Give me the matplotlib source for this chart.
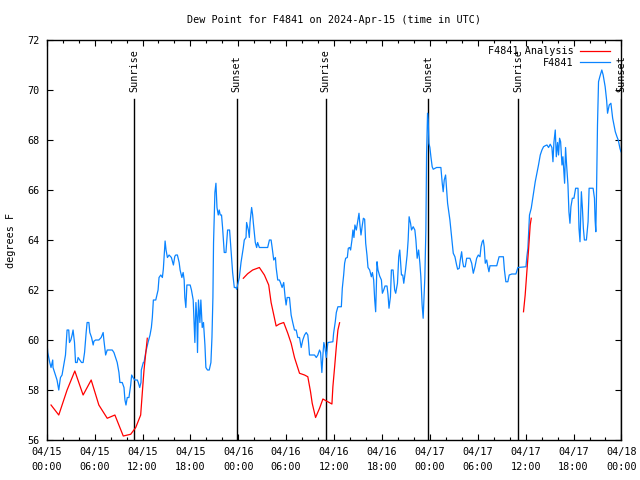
import numpy as np
import matplotlib
matplotlib.use("Agg")
import matplotlib.pyplot as plt

# ── Data (hours since 2024-04-15 00:00 UTC, dew point in °F) ─────────────────
obs_hours = [
    0.04, 0.13, 0.38, 0.54, 0.75, 0.79, 1.09, 1.29, 1.51, 1.72, 1.92, 2.14, 2.35, 2.55, 2.76,
    2.85, 3.02, 3.18, 3.30, 3.48, 3.61, 3.81, 3.93, 4.15, 4.36, 4.56, 4.74, 4.94, 5.06, 5.28,
    5.40, 5.62, 5.82, 5.91, 6.12, 6.53, 6.82, 7.07, 7.16, 7.38, 7.58, 7.79, 8.21, 8.42, 8.63,
    8.83, 9.05, 9.17, 9.46, 9.68, 9.80, 9.93, 10.09, 10.30, 10.52, 10.64, 10.81, 11.02, 11.35,
    11.47, 11.65, 11.81, 11.85, 12.10, 12.19, 12.40, 12.69, 12.94, 13.11, 13.23, 13.36, 13.66,
    13.78, 13.95, 14.07, 14.29, 14.49, 14.61, 14.83, 14.95, 15.12, 15.33, 15.62, 15.87, 16.05,
    16.17, 16.37, 16.59, 16.71, 16.93, 17.09, 17.22, 17.30, 17.43, 17.56, 17.97, 18.13, 18.35,
    18.56, 18.69, 18.81, 18.89, 19.01, 19.19, 19.31, 19.48, 19.64, 19.82, 19.94, 20.14, 20.36,
    20.57, 20.70, 20.82, 20.90, 21.07, 21.20, 21.33, 21.49, 21.61, 21.74, 21.90, 22.03, 22.24,
    22.45, 22.66, 22.91, 23.00, 23.16, 23.29, 23.50, 23.71, 23.79, 23.91, 24.13, 24.34, 24.63,
    24.75, 24.97, 25.04, 25.26, 25.38, 25.47, 25.67, 25.80, 25.88, 26.13, 26.30, 26.42, 26.64,
    27.68, 27.90, 28.11, 28.24, 28.44, 28.65, 28.74, 28.94, 29.15, 29.28, 29.49, 29.69, 29.87,
    29.99, 30.12, 30.41, 30.62, 30.82, 31.04, 31.25, 31.45, 31.67, 31.88, 32.08, 32.30, 32.51,
    32.71, 32.80, 32.92, 33.55, 33.77, 33.97, 34.18, 34.31, 34.47, 34.60, 34.72, 34.85, 35.02,
    35.15, 35.22, 35.85, 35.94, 36.15, 36.28, 36.48, 36.91, 37.03, 37.20, 37.32, 37.45, 37.66,
    37.78, 37.95, 38.07, 38.24, 38.36, 38.49, 38.61, 38.79, 38.95, 39.12, 39.24, 39.37, 39.54,
    39.67, 39.83, 39.96, 40.12, 40.25, 40.46, 40.67, 40.80, 40.96, 41.09, 41.21, 41.38, 41.50,
    41.71, 41.93, 42.05, 42.22, 42.38, 42.63, 42.76, 42.88, 43.06, 43.18, 43.39, 43.59, 43.72,
    43.94, 44.10, 44.23, 44.35, 44.44, 44.60, 44.73, 44.95, 45.15, 45.28, 45.40, 45.58, 45.70,
    45.91, 46.12, 46.25, 46.41, 46.59, 46.75, 46.87, 47.03, 47.16, 47.37, 47.50, 47.59, 47.71,
    47.79, 47.88, 48.00, 48.13, 48.29, 48.42, 48.84, 49.38, 49.55, 49.67, 49.80, 49.97, 50.10,
    50.22, 50.39, 50.51, 50.64, 50.80, 50.93, 51.14, 51.35, 51.48, 51.68, 51.81, 51.98, 52.11,
    52.23, 52.43, 52.61, 53.02, 53.24, 53.44, 53.65, 53.86, 54.07, 54.28, 54.41, 54.56, 54.69,
    54.81, 54.94, 55.12, 55.24, 55.40, 55.53, 55.76, 56.38, 56.67, 57.21, 57.34, 57.52, 57.77,
    57.94, 58.27, 58.78, 59.03, 60.04, 60.15, 60.28, 60.36, 60.48, 60.70, 60.86, 61.03, 61.20,
    61.41, 61.61, 61.83, 62.04, 62.24, 62.45, 62.67, 62.87, 63.08, 63.29, 63.42, 63.54, 63.71,
    63.84, 64.00, 64.12, 64.25, 64.38, 64.55, 64.67, 64.88, 65.00, 65.13, 65.30, 65.42, 65.55,
    65.67, 65.85, 66.05, 66.26, 66.56, 66.68, 66.81, 66.98, 67.11, 67.23, 67.36, 67.61, 67.82,
    67.95, 68.45, 68.62, 68.70, 68.79, 68.87, 69.00, 69.13, 69.29, 69.54, 69.71, 69.96, 70.14,
    70.26, 70.47, 70.68, 70.90, 71.06, 71.23, 71.44, 71.60, 71.81, 71.94,
]
obs_dewpt = [
    59.87, 59.5, 59.1, 58.9, 59.2, 58.9, 58.6, 58.4, 58.0, 58.5, 58.6, 59.0, 59.4, 60.4, 60.4,
    59.9, 60.0, 60.2, 60.4, 59.9, 59.1, 59.1, 59.3, 59.2, 59.1, 59.1, 59.5, 60.3, 60.7, 60.7,
    60.3, 60.1, 59.8, 59.95, 60.0, 60.0, 60.1, 60.3, 60.0, 59.4, 59.6, 59.6, 59.6, 59.5, 59.3,
    59.1, 58.7, 58.3, 58.3, 58.1, 57.6, 57.4, 57.7, 57.7, 58.2, 58.6, 58.5, 58.4, 58.4,
    58.3, 58.1, 58.3, 58.8, 59.1, 59.1, 59.5, 59.9, 60.2, 60.5, 60.9, 61.6, 61.6,
    61.76, 62.0, 62.5, 62.6, 62.5, 62.84, 63.96, 63.6, 63.3, 63.4, 63.3, 63.0, 63.35,
    63.4, 63.4, 63.1, 62.8, 62.5, 62.7, 62.4, 61.7, 61.3, 62.2, 62.2, 62.0, 61.6,
    59.9, 61.5, 60.9, 59.5, 61.6, 60.7, 61.6, 60.5, 60.7, 59.8, 58.9, 58.8, 58.8,
    59.1, 60.1, 61.7, 63.9, 65.9, 66.27, 65.3, 65.0, 65.2, 65.0, 65.0, 64.5, 63.5,
    63.5, 64.4, 64.4, 64.0, 63.3, 62.7, 62.1, 62.1, 62.03, 62.2, 62.5, 63.1, 63.7,
    64.0, 64.1, 64.7, 64.4, 64.1, 64.7, 65.3, 65.0, 64.7, 63.9, 63.7, 63.9, 63.7,
    63.7, 64.0, 64.0, 63.7, 63.2, 63.3, 62.9, 62.4, 62.4, 62.3, 62.1, 62.3, 61.7,
    61.4, 61.7, 61.7, 61.0, 60.7, 60.4, 60.4, 60.1, 60.1, 59.7, 60.0, 60.2, 60.3,
    60.2, 59.9, 59.4, 59.4, 59.3, 59.4, 59.6, 59.5, 58.7, 59.4, 59.9, 59.7, 59.3,
    59.7, 59.9, 59.93, 60.27, 60.73, 61.1, 61.33, 61.33, 62.07, 62.6, 63.07, 63.27, 63.3,
    63.67, 63.7, 63.6, 64.0, 64.4, 64.1, 64.6, 64.4, 64.73, 65.07, 64.6, 64.2, 64.6,
    64.87, 64.83, 63.87, 63.4, 62.9, 62.8, 62.53, 62.7, 62.4, 61.6, 61.13, 63.13, 62.8,
    62.56, 62.4, 61.87, 62.0, 62.16, 62.16, 61.8, 61.27, 61.73, 62.8, 62.8, 62.0, 61.87,
    62.27, 63.33, 63.6, 63.0, 62.6, 62.6, 62.27, 62.8, 63.4, 64.0, 64.93, 64.67, 64.4,
    64.53, 64.4, 64.0, 63.27, 63.6, 63.07, 62.53, 61.4, 60.87, 62.5, 64.4, 67.47, 69.07,
    68.8, 67.87, 67.7, 67.33, 66.93, 66.83, 66.9, 66.9, 66.27, 65.93, 66.4, 66.6, 66.0,
    65.47, 65.07, 64.8, 64.4, 63.87, 63.47, 63.33, 63.0, 62.83, 62.87, 63.2, 63.53, 63.13,
    62.93, 62.93, 63.27, 63.27, 63.07, 62.67, 62.93, 63.27, 63.4, 63.33, 63.73, 63.93, 64.0,
    63.73, 63.07, 63.2, 62.97, 62.73, 62.97, 62.97, 62.97, 63.33, 63.33, 62.8, 62.33, 62.33,
    62.6, 62.64, 62.64, 62.9, 62.93, 63.33, 63.67, 64.2, 65.0, 65.27, 65.6, 65.93, 66.33,
    66.67, 67.0, 67.4, 67.6, 67.73, 67.77, 67.8, 67.7, 67.83, 67.7, 67.13, 67.9, 68.4,
    67.33, 67.9, 67.4, 68.07, 67.93, 67.0, 67.33, 66.27, 67.7, 67.0, 66.2, 65.13, 64.67,
    65.33, 65.67, 65.67, 66.07, 66.07, 64.47, 63.93, 65.93, 65.27, 64.47, 64.0, 64.0, 64.73,
    66.07, 66.07, 65.67, 64.8, 64.33, 65.73, 68.6, 70.33, 70.53, 70.8, 70.6, 70.13, 69.6,
    69.07, 69.4, 69.47, 68.87, 68.6, 68.33, 68.13, 68.0, 67.67, 67.53,
]

# analysis series has gaps -> three separate runs
ana_hours_1 = [0.54, 1.51, 2.55, 3.52, 4.56, 5.57, 6.53, 7.58, 8.54, 9.59, 10.52, 11.15,
               11.77, 12.00, 12.19, 12.60]
ana_dewpt_1 = [57.4, 57.0, 58.0, 58.76, 57.8, 58.4, 57.4, 56.87, 57.0, 56.16, 56.23, 56.5,
               57.0, 58.0, 58.8, 60.07]
ana_hours_2 = [24.63, 25.17, 25.80, 26.64, 27.27, 27.81, 28.11, 28.40, 28.74, 29.15, 29.69,
               30.20, 30.62, 31.04, 31.67, 32.30, 32.71, 33.05, 33.26, 33.68, 34.18, 34.60,
               35.22, 35.73, 35.85, 36.07, 36.28, 36.48, 36.69]
ana_dewpt_2 = [62.47, 62.65, 62.8, 62.9, 62.6, 62.2, 61.5, 61.07, 60.56, 60.64, 60.7,
               60.27, 59.87, 59.3, 58.67, 58.6, 58.53, 57.93, 57.47, 56.9, 57.27, 57.64,
               57.53, 57.44, 58.13, 58.93, 59.73, 60.4, 60.69]
ana_hours_3 = [59.73, 59.94, 60.15, 60.36, 60.57, 60.70]
ana_dewpt_3 = [61.13, 61.8, 62.73, 63.6, 64.6, 64.87]

sun_hours  = [10.93, 23.81, 34.93, 47.78, 59.06, 71.95]
sun_labels = ["Sunrise", "Sunset", "Sunrise", "Sunset", "Sunrise", "Sunset"]

xtick_hours  = [0, 6, 12, 18, 24, 30, 36, 42, 48, 54, 60, 66, 72]
xtick_labels = ["04/15\n00:00", "04/15\n06:00", "04/15\n12:00", "04/15\n18:00",
                "04/16\n00:00", "04/16\n06:00", "04/16\n12:00", "04/16\n18:00",
                "04/17\n00:00", "04/17\n06:00", "04/17\n12:00", "04/17\n18:00",
                "04/18\n00:00"]

# ── Plot ─────────────────────────────────────────────────────────────────────
plt.rcParams["font.family"] = ["DejaVu Sans Mono"]
plt.rcParams["font.size"] = 7.3

fig = plt.figure(figsize=(6.4, 4.8), dpi=100)
ax = fig.add_axes([0.073, 0.0833, 0.898, 0.8334])

RED, BLUE = "#ff0000", "#0a84ff"

for t, lab in zip(sun_hours, sun_labels):
    ax.plot([t, t], [56, 69.65], color="black", lw=1.0, zorder=1)
    ax.text(t, 69.9, lab, rotation=90, ha="center", va="bottom")

ax.plot(ana_hours_1, ana_dewpt_1, color=RED, lw=0.9, label="F4841 Analysis", zorder=3)
ax.plot(ana_hours_2, ana_dewpt_2, color=RED, lw=0.9, zorder=3)
ax.plot(ana_hours_3, ana_dewpt_3, color=RED, lw=0.9, zorder=3)
ax.plot(obs_hours, obs_dewpt, color=BLUE, lw=0.9, label="F4841", zorder=2)

ax.set_xlim(0, 72)
ax.set_ylim(56, 72)
ax.set_xticks(xtick_hours)
ax.set_xticklabels(xtick_labels, linespacing=1.6)
ax.set_xticks(np.arange(0, 73, 2), minor=True)
ax.set_yticks(np.arange(56, 73, 2))
ax.tick_params(which="both", direction="in", top=True, right=True, width=0.8)
ax.tick_params(which="major", length=4.5, pad=5)
ax.tick_params(which="minor", length=2.5)
for s in ax.spines.values():
    s.set_linewidth(1.0)

ax.set_ylabel("degrees F", labelpad=8)
ax.set_title("Dew Point for F4841 on 2024-Apr-15 (time in UTC)", fontsize=7.3, pad=12)

leg = ax.legend(loc="upper right", bbox_to_anchor=(0.991, 1.0), frameon=False,
                markerfirst=False, handlelength=3.0, borderaxespad=0.2,
                labelspacing=0.15, handletextpad=0.6)
for t in leg.get_texts():
    t.set_ha("right")
leg._legend_box.align = "right"

fig.savefig("out.png", dpi=100)
